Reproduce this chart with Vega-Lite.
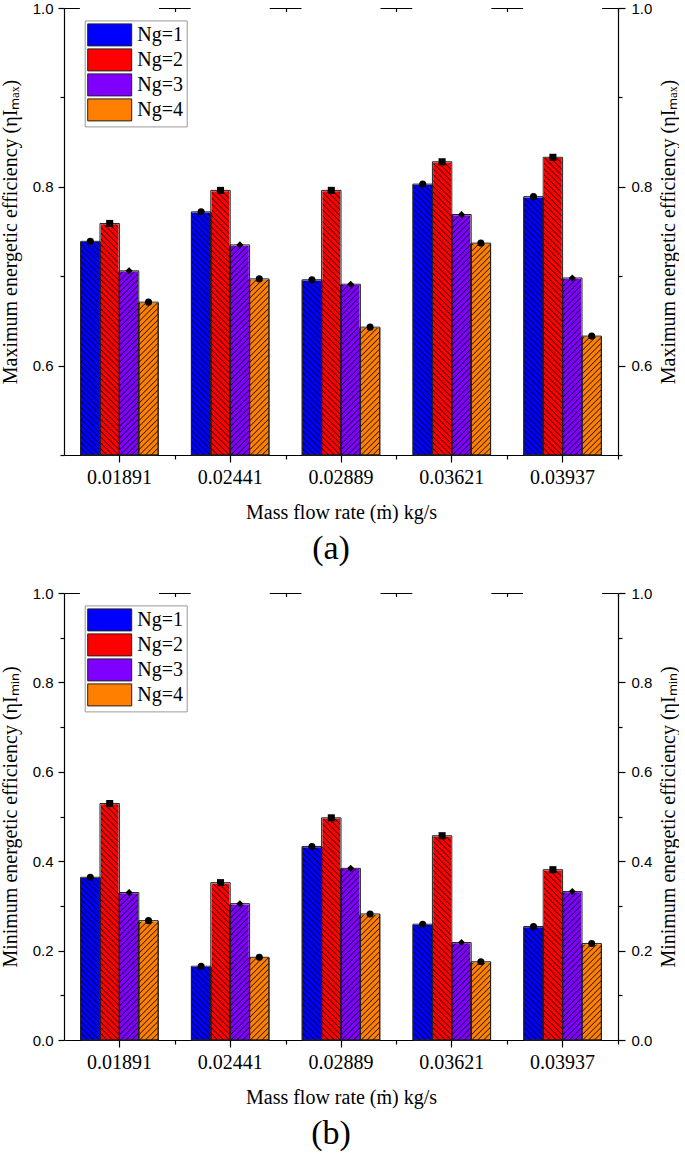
{
  "$schema": "https://vega.github.io/schema/vega-lite/v6.json",
  "background": "white",
  "padding": {"left": 0, "top": 1, "right": 0, "bottom": 0},
  "spacing": 20,
  "datasets": {
    "max": [
      {"m": "0.01891", "Ng": "Ng=1", "v": 0.739},
      {"m": "0.01891", "Ng": "Ng=2", "v": 0.759},
      {"m": "0.01891", "Ng": "Ng=3", "v": 0.706},
      {"m": "0.01891", "Ng": "Ng=4", "v": 0.671},
      {"m": "0.02441", "Ng": "Ng=1", "v": 0.772},
      {"m": "0.02441", "Ng": "Ng=2", "v": 0.796},
      {"m": "0.02441", "Ng": "Ng=3", "v": 0.735},
      {"m": "0.02441", "Ng": "Ng=4", "v": 0.697},
      {"m": "0.02889", "Ng": "Ng=1", "v": 0.696},
      {"m": "0.02889", "Ng": "Ng=2", "v": 0.796},
      {"m": "0.02889", "Ng": "Ng=3", "v": 0.691},
      {"m": "0.02889", "Ng": "Ng=4", "v": 0.643},
      {"m": "0.03621", "Ng": "Ng=1", "v": 0.803},
      {"m": "0.03621", "Ng": "Ng=2", "v": 0.828},
      {"m": "0.03621", "Ng": "Ng=3", "v": 0.769},
      {"m": "0.03621", "Ng": "Ng=4", "v": 0.737},
      {"m": "0.03937", "Ng": "Ng=1", "v": 0.789},
      {"m": "0.03937", "Ng": "Ng=2", "v": 0.833},
      {"m": "0.03937", "Ng": "Ng=3", "v": 0.698},
      {"m": "0.03937", "Ng": "Ng=4", "v": 0.633}
    ],
    "min": [
      {"m": "0.01891", "Ng": "Ng=1", "v": 0.364},
      {"m": "0.01891", "Ng": "Ng=2", "v": 0.529},
      {"m": "0.01891", "Ng": "Ng=3", "v": 0.330},
      {"m": "0.01891", "Ng": "Ng=4", "v": 0.267},
      {"m": "0.02441", "Ng": "Ng=1", "v": 0.165},
      {"m": "0.02441", "Ng": "Ng=2", "v": 0.352},
      {"m": "0.02441", "Ng": "Ng=3", "v": 0.305},
      {"m": "0.02441", "Ng": "Ng=4", "v": 0.185},
      {"m": "0.02889", "Ng": "Ng=1", "v": 0.433},
      {"m": "0.02889", "Ng": "Ng=2", "v": 0.497},
      {"m": "0.02889", "Ng": "Ng=3", "v": 0.384},
      {"m": "0.02889", "Ng": "Ng=4", "v": 0.282},
      {"m": "0.03621", "Ng": "Ng=1", "v": 0.259},
      {"m": "0.03621", "Ng": "Ng=2", "v": 0.457},
      {"m": "0.03621", "Ng": "Ng=3", "v": 0.218},
      {"m": "0.03621", "Ng": "Ng=4", "v": 0.175},
      {"m": "0.03937", "Ng": "Ng=1", "v": 0.254},
      {"m": "0.03937", "Ng": "Ng=2", "v": 0.381},
      {"m": "0.03937", "Ng": "Ng=3", "v": 0.332},
      {"m": "0.03937", "Ng": "Ng=4", "v": 0.216}
    ]
  },
  "resolve": {"scale": {"color": "independent", "shape": "independent"}},
  "vconcat": [
    {
      "data": {"name": "max"},
      "width": 554,
      "height": 447,
      "title": {"text": "(a)", "orient": "bottom", "font": "Liberation Serif", "fontSize": 34, "fontWeight": "normal", "color": "#000", "offset": 10, "dx": -10},
      "resolve": {"axis": {"x": "independent", "y": "independent"}},
      "layer": [
        {
          "mark": {"type": "bar", "stroke": "#222", "strokeWidth": 1},
          "encoding": {
            "x": {"field": "m", "type": "nominal", "sort": null, "scale": {"paddingInner": 0.3, "paddingOuter": 0.15},
              "axis": {"orient": "bottom", "title": "Mass flow rate (ṁ) kg/s", "labelAngle": 0, "labelFont": "Liberation Serif", "labelFontSize": 20, "tickSize": 7, "labelPadding": 5, "titlePadding": 15}},
            "xOffset": {"field": "Ng", "type": "nominal"},
            "y": {"field": "v", "type": "quantitative", "scale": {"domain": [0.5, 1], "nice": false, "zero": false},
              "axis": {"orient": "left", "values": [0.6, 0.8, 1.0], "format": ".1f", "tickSize": 6, "labelPadding": 5, "title": "Maximum energetic efficiency (ηIₘₐₓ)", "titlePadding": 12}},
            "y2": {"datum": 0.5},
            "color": {"field": "Ng", "type": "nominal", "scale": {"range": ["#0000ff", "#ff0000", "#8000ff", "#ff8000"]},
              "legend": {"orient": "none", "legendX": 20.7, "legendY": 12.4, "title": null, "symbolType": "M-2,-1H2V1H-2Z", "symbolSize": 484, "symbolOffset": 10.5, "labelOffset": 16, "labelFont": "Liberation Serif", "labelFontSize": 20, "labelColor": "#000", "rowPadding": -2, "padding": 3, "strokeColor": "#999", "fillColor": "#fff", "symbolStrokeColor": "#222", "symbolStrokeWidth": 1, "symbolOpacity": 1}}
          }
        },
        {
          "transform": [{"filter": {"field": "Ng", "oneOf": ["Ng=1", "Ng=2"]}}],
          "mark": {"type": "bar", "strokeWidth": 0, "fillOpacity": 0.8, "fill": {"gradient": "linear", "x1": 1, "y1": 0, "x2": 0.9548, "y2": 1.0414, "stops": [
            {"offset": 0.0075, "color": "#0000"}, {"offset": 0.01, "color": "#000"}, {"offset": 0.0125, "color": "#0000"}, {"offset": 0.02, "color": "#0000"}, {"offset": 0.0225, "color": "#000"}, {"offset": 0.025, "color": "#0000"}, {"offset": 0.0325, "color": "#0000"}, {"offset": 0.035, "color": "#000"}, {"offset": 0.0375, "color": "#0000"}, {"offset": 0.045, "color": "#0000"}, {"offset": 0.0475, "color": "#000"}, {"offset": 0.05, "color": "#0000"}, {"offset": 0.0575, "color": "#0000"}, {"offset": 0.06, "color": "#000"}, {"offset": 0.0625, "color": "#0000"}, {"offset": 0.07, "color": "#0000"}, {"offset": 0.0725, "color": "#000"}, {"offset": 0.075, "color": "#0000"}, {"offset": 0.0825, "color": "#0000"}, {"offset": 0.085, "color": "#000"}, {"offset": 0.0875, "color": "#0000"}, {"offset": 0.095, "color": "#0000"}, {"offset": 0.0975, "color": "#000"}, {"offset": 0.1, "color": "#0000"},
            {"offset": 0.1075, "color": "#0000"}, {"offset": 0.11, "color": "#000"}, {"offset": 0.1125, "color": "#0000"}, {"offset": 0.12, "color": "#0000"}, {"offset": 0.1225, "color": "#000"}, {"offset": 0.125, "color": "#0000"}, {"offset": 0.1325, "color": "#0000"}, {"offset": 0.135, "color": "#000"}, {"offset": 0.1375, "color": "#0000"}, {"offset": 0.145, "color": "#0000"}, {"offset": 0.1475, "color": "#000"}, {"offset": 0.15, "color": "#0000"}, {"offset": 0.1575, "color": "#0000"}, {"offset": 0.16, "color": "#000"}, {"offset": 0.1625, "color": "#0000"}, {"offset": 0.17, "color": "#0000"}, {"offset": 0.1725, "color": "#000"}, {"offset": 0.175, "color": "#0000"}, {"offset": 0.1825, "color": "#0000"}, {"offset": 0.185, "color": "#000"}, {"offset": 0.1875, "color": "#0000"}, {"offset": 0.195, "color": "#0000"}, {"offset": 0.1975, "color": "#000"}, {"offset": 0.2, "color": "#0000"},
            {"offset": 0.2075, "color": "#0000"}, {"offset": 0.21, "color": "#000"}, {"offset": 0.2125, "color": "#0000"}, {"offset": 0.22, "color": "#0000"}, {"offset": 0.2225, "color": "#000"}, {"offset": 0.225, "color": "#0000"}, {"offset": 0.2325, "color": "#0000"}, {"offset": 0.235, "color": "#000"}, {"offset": 0.2375, "color": "#0000"}, {"offset": 0.245, "color": "#0000"}, {"offset": 0.2475, "color": "#000"}, {"offset": 0.25, "color": "#0000"}, {"offset": 0.2575, "color": "#0000"}, {"offset": 0.26, "color": "#000"}, {"offset": 0.2625, "color": "#0000"}, {"offset": 0.27, "color": "#0000"}, {"offset": 0.2725, "color": "#000"}, {"offset": 0.275, "color": "#0000"}, {"offset": 0.2825, "color": "#0000"}, {"offset": 0.285, "color": "#000"}, {"offset": 0.2875, "color": "#0000"}, {"offset": 0.295, "color": "#0000"}, {"offset": 0.2975, "color": "#000"}, {"offset": 0.3, "color": "#0000"},
            {"offset": 0.3075, "color": "#0000"}, {"offset": 0.31, "color": "#000"}, {"offset": 0.3125, "color": "#0000"}, {"offset": 0.32, "color": "#0000"}, {"offset": 0.3225, "color": "#000"}, {"offset": 0.325, "color": "#0000"}, {"offset": 0.3325, "color": "#0000"}, {"offset": 0.335, "color": "#000"}, {"offset": 0.3375, "color": "#0000"}, {"offset": 0.345, "color": "#0000"}, {"offset": 0.3475, "color": "#000"}, {"offset": 0.35, "color": "#0000"}, {"offset": 0.3575, "color": "#0000"}, {"offset": 0.36, "color": "#000"}, {"offset": 0.3625, "color": "#0000"}, {"offset": 0.37, "color": "#0000"}, {"offset": 0.3725, "color": "#000"}, {"offset": 0.375, "color": "#0000"}, {"offset": 0.3825, "color": "#0000"}, {"offset": 0.385, "color": "#000"}, {"offset": 0.3875, "color": "#0000"}, {"offset": 0.395, "color": "#0000"}, {"offset": 0.3975, "color": "#000"}, {"offset": 0.4, "color": "#0000"},
            {"offset": 0.4075, "color": "#0000"}, {"offset": 0.41, "color": "#000"}, {"offset": 0.4125, "color": "#0000"}, {"offset": 0.42, "color": "#0000"}, {"offset": 0.4225, "color": "#000"}, {"offset": 0.425, "color": "#0000"}, {"offset": 0.4325, "color": "#0000"}, {"offset": 0.435, "color": "#000"}, {"offset": 0.4375, "color": "#0000"}, {"offset": 0.445, "color": "#0000"}, {"offset": 0.4475, "color": "#000"}, {"offset": 0.45, "color": "#0000"}, {"offset": 0.4575, "color": "#0000"}, {"offset": 0.46, "color": "#000"}, {"offset": 0.4625, "color": "#0000"}, {"offset": 0.47, "color": "#0000"}, {"offset": 0.4725, "color": "#000"}, {"offset": 0.475, "color": "#0000"}, {"offset": 0.4825, "color": "#0000"}, {"offset": 0.485, "color": "#000"}, {"offset": 0.4875, "color": "#0000"}, {"offset": 0.495, "color": "#0000"}, {"offset": 0.4975, "color": "#000"}, {"offset": 0.5, "color": "#0000"},
            {"offset": 0.5075, "color": "#0000"}, {"offset": 0.51, "color": "#000"}, {"offset": 0.5125, "color": "#0000"}, {"offset": 0.52, "color": "#0000"}, {"offset": 0.5225, "color": "#000"}, {"offset": 0.525, "color": "#0000"}, {"offset": 0.5325, "color": "#0000"}, {"offset": 0.535, "color": "#000"}, {"offset": 0.5375, "color": "#0000"}, {"offset": 0.545, "color": "#0000"}, {"offset": 0.5475, "color": "#000"}, {"offset": 0.55, "color": "#0000"}, {"offset": 0.5575, "color": "#0000"}, {"offset": 0.56, "color": "#000"}, {"offset": 0.5625, "color": "#0000"}, {"offset": 0.57, "color": "#0000"}, {"offset": 0.5725, "color": "#000"}, {"offset": 0.575, "color": "#0000"}, {"offset": 0.5825, "color": "#0000"}, {"offset": 0.585, "color": "#000"}, {"offset": 0.5875, "color": "#0000"}, {"offset": 0.595, "color": "#0000"}, {"offset": 0.5975, "color": "#000"}, {"offset": 0.6, "color": "#0000"},
            {"offset": 0.6075, "color": "#0000"}, {"offset": 0.61, "color": "#000"}, {"offset": 0.6125, "color": "#0000"}, {"offset": 0.62, "color": "#0000"}, {"offset": 0.6225, "color": "#000"}, {"offset": 0.625, "color": "#0000"}, {"offset": 0.6325, "color": "#0000"}, {"offset": 0.635, "color": "#000"}, {"offset": 0.6375, "color": "#0000"}, {"offset": 0.645, "color": "#0000"}, {"offset": 0.6475, "color": "#000"}, {"offset": 0.65, "color": "#0000"}, {"offset": 0.6575, "color": "#0000"}, {"offset": 0.66, "color": "#000"}, {"offset": 0.6625, "color": "#0000"}, {"offset": 0.67, "color": "#0000"}, {"offset": 0.6725, "color": "#000"}, {"offset": 0.675, "color": "#0000"}, {"offset": 0.6825, "color": "#0000"}, {"offset": 0.685, "color": "#000"}, {"offset": 0.6875, "color": "#0000"}, {"offset": 0.695, "color": "#0000"}, {"offset": 0.6975, "color": "#000"}, {"offset": 0.7, "color": "#0000"},
            {"offset": 0.7075, "color": "#0000"}, {"offset": 0.71, "color": "#000"}, {"offset": 0.7125, "color": "#0000"}, {"offset": 0.72, "color": "#0000"}, {"offset": 0.7225, "color": "#000"}, {"offset": 0.725, "color": "#0000"}, {"offset": 0.7325, "color": "#0000"}, {"offset": 0.735, "color": "#000"}, {"offset": 0.7375, "color": "#0000"}, {"offset": 0.745, "color": "#0000"}, {"offset": 0.7475, "color": "#000"}, {"offset": 0.75, "color": "#0000"}, {"offset": 0.7575, "color": "#0000"}, {"offset": 0.76, "color": "#000"}, {"offset": 0.7625, "color": "#0000"}, {"offset": 0.77, "color": "#0000"}, {"offset": 0.7725, "color": "#000"}, {"offset": 0.775, "color": "#0000"}, {"offset": 0.7825, "color": "#0000"}, {"offset": 0.785, "color": "#000"}, {"offset": 0.7875, "color": "#0000"}, {"offset": 0.795, "color": "#0000"}, {"offset": 0.7975, "color": "#000"}, {"offset": 0.8, "color": "#0000"},
            {"offset": 0.8075, "color": "#0000"}, {"offset": 0.81, "color": "#000"}, {"offset": 0.8125, "color": "#0000"}, {"offset": 0.82, "color": "#0000"}, {"offset": 0.8225, "color": "#000"}, {"offset": 0.825, "color": "#0000"}, {"offset": 0.8325, "color": "#0000"}, {"offset": 0.835, "color": "#000"}, {"offset": 0.8375, "color": "#0000"}, {"offset": 0.845, "color": "#0000"}, {"offset": 0.8475, "color": "#000"}, {"offset": 0.85, "color": "#0000"}, {"offset": 0.8575, "color": "#0000"}, {"offset": 0.86, "color": "#000"}, {"offset": 0.8625, "color": "#0000"}, {"offset": 0.87, "color": "#0000"}, {"offset": 0.8725, "color": "#000"}, {"offset": 0.875, "color": "#0000"}, {"offset": 0.8825, "color": "#0000"}, {"offset": 0.885, "color": "#000"}, {"offset": 0.8875, "color": "#0000"}, {"offset": 0.895, "color": "#0000"}, {"offset": 0.8975, "color": "#000"}, {"offset": 0.9, "color": "#0000"},
            {"offset": 0.9075, "color": "#0000"}, {"offset": 0.91, "color": "#000"}, {"offset": 0.9125, "color": "#0000"}, {"offset": 0.92, "color": "#0000"}, {"offset": 0.9225, "color": "#000"}, {"offset": 0.925, "color": "#0000"}, {"offset": 0.9325, "color": "#0000"}, {"offset": 0.935, "color": "#000"}, {"offset": 0.9375, "color": "#0000"}, {"offset": 0.945, "color": "#0000"}, {"offset": 0.9475, "color": "#000"}, {"offset": 0.95, "color": "#0000"}, {"offset": 0.9575, "color": "#0000"}, {"offset": 0.96, "color": "#000"}, {"offset": 0.9625, "color": "#0000"}, {"offset": 0.97, "color": "#0000"}, {"offset": 0.9725, "color": "#000"}, {"offset": 0.975, "color": "#0000"}, {"offset": 0.9825, "color": "#0000"}, {"offset": 0.985, "color": "#000"}, {"offset": 0.9875, "color": "#0000"}, {"offset": 0.995, "color": "#0000"}, {"offset": 0.9975, "color": "#000"}, {"offset": 1, "color": "#0000"}
          ]}},
          "encoding": {
            "x": {"field": "m", "type": "nominal", "sort": null,
              "axis": {"orient": "bottom", "bandPosition": 1, "tickOffset": 16.6, "tickSize": 4, "labels": false, "domain": false, "title": null}},
            "xOffset": {"field": "Ng", "type": "nominal"},
            "y": {"datum": 1, "type": "quantitative", "axis": {"orient": "left", "values": [0.5, 0.7, 0.9], "tickSize": 4, "labels": false, "domain": false, "title": null}},
            "y2": {"datum": 0.5}
          }
        },
        {
          "transform": [{"filter": {"field": "Ng", "oneOf": ["Ng=3", "Ng=4"]}}],
          "mark": {"type": "bar", "strokeWidth": 0, "fillOpacity": 0.8, "fill": {"gradient": "linear", "x1": 0, "y1": 0, "x2": 0.0452, "y2": 1.0414, "stops": [
            {"offset": 0.0075, "color": "#0000"}, {"offset": 0.01, "color": "#000"}, {"offset": 0.0125, "color": "#0000"}, {"offset": 0.02, "color": "#0000"}, {"offset": 0.0225, "color": "#000"}, {"offset": 0.025, "color": "#0000"}, {"offset": 0.0325, "color": "#0000"}, {"offset": 0.035, "color": "#000"}, {"offset": 0.0375, "color": "#0000"}, {"offset": 0.045, "color": "#0000"}, {"offset": 0.0475, "color": "#000"}, {"offset": 0.05, "color": "#0000"}, {"offset": 0.0575, "color": "#0000"}, {"offset": 0.06, "color": "#000"}, {"offset": 0.0625, "color": "#0000"}, {"offset": 0.07, "color": "#0000"}, {"offset": 0.0725, "color": "#000"}, {"offset": 0.075, "color": "#0000"}, {"offset": 0.0825, "color": "#0000"}, {"offset": 0.085, "color": "#000"}, {"offset": 0.0875, "color": "#0000"}, {"offset": 0.095, "color": "#0000"}, {"offset": 0.0975, "color": "#000"}, {"offset": 0.1, "color": "#0000"},
            {"offset": 0.1075, "color": "#0000"}, {"offset": 0.11, "color": "#000"}, {"offset": 0.1125, "color": "#0000"}, {"offset": 0.12, "color": "#0000"}, {"offset": 0.1225, "color": "#000"}, {"offset": 0.125, "color": "#0000"}, {"offset": 0.1325, "color": "#0000"}, {"offset": 0.135, "color": "#000"}, {"offset": 0.1375, "color": "#0000"}, {"offset": 0.145, "color": "#0000"}, {"offset": 0.1475, "color": "#000"}, {"offset": 0.15, "color": "#0000"}, {"offset": 0.1575, "color": "#0000"}, {"offset": 0.16, "color": "#000"}, {"offset": 0.1625, "color": "#0000"}, {"offset": 0.17, "color": "#0000"}, {"offset": 0.1725, "color": "#000"}, {"offset": 0.175, "color": "#0000"}, {"offset": 0.1825, "color": "#0000"}, {"offset": 0.185, "color": "#000"}, {"offset": 0.1875, "color": "#0000"}, {"offset": 0.195, "color": "#0000"}, {"offset": 0.1975, "color": "#000"}, {"offset": 0.2, "color": "#0000"},
            {"offset": 0.2075, "color": "#0000"}, {"offset": 0.21, "color": "#000"}, {"offset": 0.2125, "color": "#0000"}, {"offset": 0.22, "color": "#0000"}, {"offset": 0.2225, "color": "#000"}, {"offset": 0.225, "color": "#0000"}, {"offset": 0.2325, "color": "#0000"}, {"offset": 0.235, "color": "#000"}, {"offset": 0.2375, "color": "#0000"}, {"offset": 0.245, "color": "#0000"}, {"offset": 0.2475, "color": "#000"}, {"offset": 0.25, "color": "#0000"}, {"offset": 0.2575, "color": "#0000"}, {"offset": 0.26, "color": "#000"}, {"offset": 0.2625, "color": "#0000"}, {"offset": 0.27, "color": "#0000"}, {"offset": 0.2725, "color": "#000"}, {"offset": 0.275, "color": "#0000"}, {"offset": 0.2825, "color": "#0000"}, {"offset": 0.285, "color": "#000"}, {"offset": 0.2875, "color": "#0000"}, {"offset": 0.295, "color": "#0000"}, {"offset": 0.2975, "color": "#000"}, {"offset": 0.3, "color": "#0000"},
            {"offset": 0.3075, "color": "#0000"}, {"offset": 0.31, "color": "#000"}, {"offset": 0.3125, "color": "#0000"}, {"offset": 0.32, "color": "#0000"}, {"offset": 0.3225, "color": "#000"}, {"offset": 0.325, "color": "#0000"}, {"offset": 0.3325, "color": "#0000"}, {"offset": 0.335, "color": "#000"}, {"offset": 0.3375, "color": "#0000"}, {"offset": 0.345, "color": "#0000"}, {"offset": 0.3475, "color": "#000"}, {"offset": 0.35, "color": "#0000"}, {"offset": 0.3575, "color": "#0000"}, {"offset": 0.36, "color": "#000"}, {"offset": 0.3625, "color": "#0000"}, {"offset": 0.37, "color": "#0000"}, {"offset": 0.3725, "color": "#000"}, {"offset": 0.375, "color": "#0000"}, {"offset": 0.3825, "color": "#0000"}, {"offset": 0.385, "color": "#000"}, {"offset": 0.3875, "color": "#0000"}, {"offset": 0.395, "color": "#0000"}, {"offset": 0.3975, "color": "#000"}, {"offset": 0.4, "color": "#0000"},
            {"offset": 0.4075, "color": "#0000"}, {"offset": 0.41, "color": "#000"}, {"offset": 0.4125, "color": "#0000"}, {"offset": 0.42, "color": "#0000"}, {"offset": 0.4225, "color": "#000"}, {"offset": 0.425, "color": "#0000"}, {"offset": 0.4325, "color": "#0000"}, {"offset": 0.435, "color": "#000"}, {"offset": 0.4375, "color": "#0000"}, {"offset": 0.445, "color": "#0000"}, {"offset": 0.4475, "color": "#000"}, {"offset": 0.45, "color": "#0000"}, {"offset": 0.4575, "color": "#0000"}, {"offset": 0.46, "color": "#000"}, {"offset": 0.4625, "color": "#0000"}, {"offset": 0.47, "color": "#0000"}, {"offset": 0.4725, "color": "#000"}, {"offset": 0.475, "color": "#0000"}, {"offset": 0.4825, "color": "#0000"}, {"offset": 0.485, "color": "#000"}, {"offset": 0.4875, "color": "#0000"}, {"offset": 0.495, "color": "#0000"}, {"offset": 0.4975, "color": "#000"}, {"offset": 0.5, "color": "#0000"},
            {"offset": 0.5075, "color": "#0000"}, {"offset": 0.51, "color": "#000"}, {"offset": 0.5125, "color": "#0000"}, {"offset": 0.52, "color": "#0000"}, {"offset": 0.5225, "color": "#000"}, {"offset": 0.525, "color": "#0000"}, {"offset": 0.5325, "color": "#0000"}, {"offset": 0.535, "color": "#000"}, {"offset": 0.5375, "color": "#0000"}, {"offset": 0.545, "color": "#0000"}, {"offset": 0.5475, "color": "#000"}, {"offset": 0.55, "color": "#0000"}, {"offset": 0.5575, "color": "#0000"}, {"offset": 0.56, "color": "#000"}, {"offset": 0.5625, "color": "#0000"}, {"offset": 0.57, "color": "#0000"}, {"offset": 0.5725, "color": "#000"}, {"offset": 0.575, "color": "#0000"}, {"offset": 0.5825, "color": "#0000"}, {"offset": 0.585, "color": "#000"}, {"offset": 0.5875, "color": "#0000"}, {"offset": 0.595, "color": "#0000"}, {"offset": 0.5975, "color": "#000"}, {"offset": 0.6, "color": "#0000"},
            {"offset": 0.6075, "color": "#0000"}, {"offset": 0.61, "color": "#000"}, {"offset": 0.6125, "color": "#0000"}, {"offset": 0.62, "color": "#0000"}, {"offset": 0.6225, "color": "#000"}, {"offset": 0.625, "color": "#0000"}, {"offset": 0.6325, "color": "#0000"}, {"offset": 0.635, "color": "#000"}, {"offset": 0.6375, "color": "#0000"}, {"offset": 0.645, "color": "#0000"}, {"offset": 0.6475, "color": "#000"}, {"offset": 0.65, "color": "#0000"}, {"offset": 0.6575, "color": "#0000"}, {"offset": 0.66, "color": "#000"}, {"offset": 0.6625, "color": "#0000"}, {"offset": 0.67, "color": "#0000"}, {"offset": 0.6725, "color": "#000"}, {"offset": 0.675, "color": "#0000"}, {"offset": 0.6825, "color": "#0000"}, {"offset": 0.685, "color": "#000"}, {"offset": 0.6875, "color": "#0000"}, {"offset": 0.695, "color": "#0000"}, {"offset": 0.6975, "color": "#000"}, {"offset": 0.7, "color": "#0000"},
            {"offset": 0.7075, "color": "#0000"}, {"offset": 0.71, "color": "#000"}, {"offset": 0.7125, "color": "#0000"}, {"offset": 0.72, "color": "#0000"}, {"offset": 0.7225, "color": "#000"}, {"offset": 0.725, "color": "#0000"}, {"offset": 0.7325, "color": "#0000"}, {"offset": 0.735, "color": "#000"}, {"offset": 0.7375, "color": "#0000"}, {"offset": 0.745, "color": "#0000"}, {"offset": 0.7475, "color": "#000"}, {"offset": 0.75, "color": "#0000"}, {"offset": 0.7575, "color": "#0000"}, {"offset": 0.76, "color": "#000"}, {"offset": 0.7625, "color": "#0000"}, {"offset": 0.77, "color": "#0000"}, {"offset": 0.7725, "color": "#000"}, {"offset": 0.775, "color": "#0000"}, {"offset": 0.7825, "color": "#0000"}, {"offset": 0.785, "color": "#000"}, {"offset": 0.7875, "color": "#0000"}, {"offset": 0.795, "color": "#0000"}, {"offset": 0.7975, "color": "#000"}, {"offset": 0.8, "color": "#0000"},
            {"offset": 0.8075, "color": "#0000"}, {"offset": 0.81, "color": "#000"}, {"offset": 0.8125, "color": "#0000"}, {"offset": 0.82, "color": "#0000"}, {"offset": 0.8225, "color": "#000"}, {"offset": 0.825, "color": "#0000"}, {"offset": 0.8325, "color": "#0000"}, {"offset": 0.835, "color": "#000"}, {"offset": 0.8375, "color": "#0000"}, {"offset": 0.845, "color": "#0000"}, {"offset": 0.8475, "color": "#000"}, {"offset": 0.85, "color": "#0000"}, {"offset": 0.8575, "color": "#0000"}, {"offset": 0.86, "color": "#000"}, {"offset": 0.8625, "color": "#0000"}, {"offset": 0.87, "color": "#0000"}, {"offset": 0.8725, "color": "#000"}, {"offset": 0.875, "color": "#0000"}, {"offset": 0.8825, "color": "#0000"}, {"offset": 0.885, "color": "#000"}, {"offset": 0.8875, "color": "#0000"}, {"offset": 0.895, "color": "#0000"}, {"offset": 0.8975, "color": "#000"}, {"offset": 0.9, "color": "#0000"},
            {"offset": 0.9075, "color": "#0000"}, {"offset": 0.91, "color": "#000"}, {"offset": 0.9125, "color": "#0000"}, {"offset": 0.92, "color": "#0000"}, {"offset": 0.9225, "color": "#000"}, {"offset": 0.925, "color": "#0000"}, {"offset": 0.9325, "color": "#0000"}, {"offset": 0.935, "color": "#000"}, {"offset": 0.9375, "color": "#0000"}, {"offset": 0.945, "color": "#0000"}, {"offset": 0.9475, "color": "#000"}, {"offset": 0.95, "color": "#0000"}, {"offset": 0.9575, "color": "#0000"}, {"offset": 0.96, "color": "#000"}, {"offset": 0.9625, "color": "#0000"}, {"offset": 0.97, "color": "#0000"}, {"offset": 0.9725, "color": "#000"}, {"offset": 0.975, "color": "#0000"}, {"offset": 0.9825, "color": "#0000"}, {"offset": 0.985, "color": "#000"}, {"offset": 0.9875, "color": "#0000"}, {"offset": 0.995, "color": "#0000"}, {"offset": 0.9975, "color": "#000"}, {"offset": 1, "color": "#0000"}
          ]}},
          "encoding": {
            "x": {"field": "m", "type": "nominal", "sort": null,
              "axis": {"orient": "top", "ticks": false, "labels": false, "title": null}},
            "xOffset": {"field": "Ng", "type": "nominal"},
            "y": {"datum": 1, "type": "quantitative", "axis": {"orient": "right", "values": [0.6, 0.8, 1.0], "format": ".1f", "tickSize": 7, "labelPadding": 6, "title": "Maximum energetic efficiency (ηIₘₐₓ)", "titleAngle": 270, "titleBaseline": "top", "titlePadding": 7}},
            "y2": {"datum": 0.5}
          }
        },
        {
          "mark": {"type": "bar", "fill": "#fff", "stroke": "#fff", "strokeWidth": 1.5},
          "encoding": {
            "x": {"field": "m", "type": "nominal", "sort": null,
              "axis": {"orient": "top", "offset": -6, "tickSize": 6, "labels": false, "domain": false, "title": null}},
            "xOffset": {"field": "Ng", "type": "nominal"},
            "y": {"field": "v", "type": "quantitative", "axis": {"orient": "right", "values": [0.5, 0.7, 0.9], "tickSize": 4, "labels": false, "domain": false, "title": null}},
            "y2": {"datum": 1}
          }
        },
        {
          "mark": {"type": "bar", "fill": "transparent", "stroke": "#222", "strokeWidth": 1},
          "encoding": {
            "x": {"field": "m", "type": "nominal", "sort": null,
              "axis": {"orient": "top", "offset": -3.5, "tickSize": 3.5, "bandPosition": 1, "tickOffset": 16.6, "labels": false, "domain": false, "title": null}},
            "xOffset": {"field": "Ng", "type": "nominal"},
            "y": {"field": "v", "type": "quantitative", "axis": null},
            "y2": {"datum": 0.5}
          }
        },
        {
          "mark": {"type": "point", "filled": true, "fill": "#000", "size": 50, "opacity": 1},
          "encoding": {
            "x": {"field": "m", "type": "nominal", "sort": null, "axis": null},
            "xOffset": {"field": "Ng", "type": "nominal"},
            "y": {"field": "v", "type": "quantitative", "axis": null},
            "shape": {"field": "Ng", "type": "nominal", "scale": {"range": ["circle", "square", "diamond", "circle"]}, "legend": null}
          }
        }
      ]
    },
    {
      "data": {"name": "min"},
      "width": 554,
      "height": 447,
      "title": {"text": "(b)", "orient": "bottom", "font": "Liberation Serif", "fontSize": 34, "fontWeight": "normal", "color": "#000", "offset": 10, "dx": -10},
      "resolve": {"axis": {"x": "independent", "y": "independent"}},
      "layer": [
        {
          "mark": {"type": "bar", "stroke": "#222", "strokeWidth": 1},
          "encoding": {
            "x": {"field": "m", "type": "nominal", "sort": null, "scale": {"paddingInner": 0.3, "paddingOuter": 0.15},
              "axis": {"orient": "bottom", "title": "Mass flow rate (ṁ) kg/s", "labelAngle": 0, "labelFont": "Liberation Serif", "labelFontSize": 20, "tickSize": 7, "labelPadding": 5, "titlePadding": 15}},
            "xOffset": {"field": "Ng", "type": "nominal"},
            "y": {"field": "v", "type": "quantitative", "scale": {"domain": [0, 1], "nice": false},
              "axis": {"orient": "left", "values": [0, 0.2, 0.4, 0.6, 0.8, 1.0], "format": ".1f", "tickSize": 6, "labelPadding": 5, "title": "Minimum energetic efficiency (ηIₘᵢₙ)", "titlePadding": 12}},
            "y2": {"datum": 0},
            "color": {"field": "Ng", "type": "nominal", "scale": {"range": ["#0000ff", "#ff0000", "#8000ff", "#ff8000"]},
              "legend": {"orient": "none", "legendX": 20.7, "legendY": 12.4, "title": null, "symbolType": "M-2,-1H2V1H-2Z", "symbolSize": 484, "symbolOffset": 10.5, "labelOffset": 16, "labelFont": "Liberation Serif", "labelFontSize": 20, "labelColor": "#000", "rowPadding": -2, "padding": 3, "strokeColor": "#999", "fillColor": "#fff", "symbolStrokeColor": "#222", "symbolStrokeWidth": 1, "symbolOpacity": 1}}
          }
        },
        {
          "transform": [{"filter": {"field": "Ng", "oneOf": ["Ng=1", "Ng=2"]}}],
          "mark": {"type": "bar", "strokeWidth": 0, "fillOpacity": 0.8, "fill": {"gradient": "linear", "x1": 1, "y1": 0, "x2": 0.9548, "y2": 1.0414, "stops": [
            {"offset": 0.0075, "color": "#0000"}, {"offset": 0.01, "color": "#000"}, {"offset": 0.0125, "color": "#0000"}, {"offset": 0.02, "color": "#0000"}, {"offset": 0.0225, "color": "#000"}, {"offset": 0.025, "color": "#0000"}, {"offset": 0.0325, "color": "#0000"}, {"offset": 0.035, "color": "#000"}, {"offset": 0.0375, "color": "#0000"}, {"offset": 0.045, "color": "#0000"}, {"offset": 0.0475, "color": "#000"}, {"offset": 0.05, "color": "#0000"}, {"offset": 0.0575, "color": "#0000"}, {"offset": 0.06, "color": "#000"}, {"offset": 0.0625, "color": "#0000"}, {"offset": 0.07, "color": "#0000"}, {"offset": 0.0725, "color": "#000"}, {"offset": 0.075, "color": "#0000"}, {"offset": 0.0825, "color": "#0000"}, {"offset": 0.085, "color": "#000"}, {"offset": 0.0875, "color": "#0000"}, {"offset": 0.095, "color": "#0000"}, {"offset": 0.0975, "color": "#000"}, {"offset": 0.1, "color": "#0000"},
            {"offset": 0.1075, "color": "#0000"}, {"offset": 0.11, "color": "#000"}, {"offset": 0.1125, "color": "#0000"}, {"offset": 0.12, "color": "#0000"}, {"offset": 0.1225, "color": "#000"}, {"offset": 0.125, "color": "#0000"}, {"offset": 0.1325, "color": "#0000"}, {"offset": 0.135, "color": "#000"}, {"offset": 0.1375, "color": "#0000"}, {"offset": 0.145, "color": "#0000"}, {"offset": 0.1475, "color": "#000"}, {"offset": 0.15, "color": "#0000"}, {"offset": 0.1575, "color": "#0000"}, {"offset": 0.16, "color": "#000"}, {"offset": 0.1625, "color": "#0000"}, {"offset": 0.17, "color": "#0000"}, {"offset": 0.1725, "color": "#000"}, {"offset": 0.175, "color": "#0000"}, {"offset": 0.1825, "color": "#0000"}, {"offset": 0.185, "color": "#000"}, {"offset": 0.1875, "color": "#0000"}, {"offset": 0.195, "color": "#0000"}, {"offset": 0.1975, "color": "#000"}, {"offset": 0.2, "color": "#0000"},
            {"offset": 0.2075, "color": "#0000"}, {"offset": 0.21, "color": "#000"}, {"offset": 0.2125, "color": "#0000"}, {"offset": 0.22, "color": "#0000"}, {"offset": 0.2225, "color": "#000"}, {"offset": 0.225, "color": "#0000"}, {"offset": 0.2325, "color": "#0000"}, {"offset": 0.235, "color": "#000"}, {"offset": 0.2375, "color": "#0000"}, {"offset": 0.245, "color": "#0000"}, {"offset": 0.2475, "color": "#000"}, {"offset": 0.25, "color": "#0000"}, {"offset": 0.2575, "color": "#0000"}, {"offset": 0.26, "color": "#000"}, {"offset": 0.2625, "color": "#0000"}, {"offset": 0.27, "color": "#0000"}, {"offset": 0.2725, "color": "#000"}, {"offset": 0.275, "color": "#0000"}, {"offset": 0.2825, "color": "#0000"}, {"offset": 0.285, "color": "#000"}, {"offset": 0.2875, "color": "#0000"}, {"offset": 0.295, "color": "#0000"}, {"offset": 0.2975, "color": "#000"}, {"offset": 0.3, "color": "#0000"},
            {"offset": 0.3075, "color": "#0000"}, {"offset": 0.31, "color": "#000"}, {"offset": 0.3125, "color": "#0000"}, {"offset": 0.32, "color": "#0000"}, {"offset": 0.3225, "color": "#000"}, {"offset": 0.325, "color": "#0000"}, {"offset": 0.3325, "color": "#0000"}, {"offset": 0.335, "color": "#000"}, {"offset": 0.3375, "color": "#0000"}, {"offset": 0.345, "color": "#0000"}, {"offset": 0.3475, "color": "#000"}, {"offset": 0.35, "color": "#0000"}, {"offset": 0.3575, "color": "#0000"}, {"offset": 0.36, "color": "#000"}, {"offset": 0.3625, "color": "#0000"}, {"offset": 0.37, "color": "#0000"}, {"offset": 0.3725, "color": "#000"}, {"offset": 0.375, "color": "#0000"}, {"offset": 0.3825, "color": "#0000"}, {"offset": 0.385, "color": "#000"}, {"offset": 0.3875, "color": "#0000"}, {"offset": 0.395, "color": "#0000"}, {"offset": 0.3975, "color": "#000"}, {"offset": 0.4, "color": "#0000"},
            {"offset": 0.4075, "color": "#0000"}, {"offset": 0.41, "color": "#000"}, {"offset": 0.4125, "color": "#0000"}, {"offset": 0.42, "color": "#0000"}, {"offset": 0.4225, "color": "#000"}, {"offset": 0.425, "color": "#0000"}, {"offset": 0.4325, "color": "#0000"}, {"offset": 0.435, "color": "#000"}, {"offset": 0.4375, "color": "#0000"}, {"offset": 0.445, "color": "#0000"}, {"offset": 0.4475, "color": "#000"}, {"offset": 0.45, "color": "#0000"}, {"offset": 0.4575, "color": "#0000"}, {"offset": 0.46, "color": "#000"}, {"offset": 0.4625, "color": "#0000"}, {"offset": 0.47, "color": "#0000"}, {"offset": 0.4725, "color": "#000"}, {"offset": 0.475, "color": "#0000"}, {"offset": 0.4825, "color": "#0000"}, {"offset": 0.485, "color": "#000"}, {"offset": 0.4875, "color": "#0000"}, {"offset": 0.495, "color": "#0000"}, {"offset": 0.4975, "color": "#000"}, {"offset": 0.5, "color": "#0000"},
            {"offset": 0.5075, "color": "#0000"}, {"offset": 0.51, "color": "#000"}, {"offset": 0.5125, "color": "#0000"}, {"offset": 0.52, "color": "#0000"}, {"offset": 0.5225, "color": "#000"}, {"offset": 0.525, "color": "#0000"}, {"offset": 0.5325, "color": "#0000"}, {"offset": 0.535, "color": "#000"}, {"offset": 0.5375, "color": "#0000"}, {"offset": 0.545, "color": "#0000"}, {"offset": 0.5475, "color": "#000"}, {"offset": 0.55, "color": "#0000"}, {"offset": 0.5575, "color": "#0000"}, {"offset": 0.56, "color": "#000"}, {"offset": 0.5625, "color": "#0000"}, {"offset": 0.57, "color": "#0000"}, {"offset": 0.5725, "color": "#000"}, {"offset": 0.575, "color": "#0000"}, {"offset": 0.5825, "color": "#0000"}, {"offset": 0.585, "color": "#000"}, {"offset": 0.5875, "color": "#0000"}, {"offset": 0.595, "color": "#0000"}, {"offset": 0.5975, "color": "#000"}, {"offset": 0.6, "color": "#0000"},
            {"offset": 0.6075, "color": "#0000"}, {"offset": 0.61, "color": "#000"}, {"offset": 0.6125, "color": "#0000"}, {"offset": 0.62, "color": "#0000"}, {"offset": 0.6225, "color": "#000"}, {"offset": 0.625, "color": "#0000"}, {"offset": 0.6325, "color": "#0000"}, {"offset": 0.635, "color": "#000"}, {"offset": 0.6375, "color": "#0000"}, {"offset": 0.645, "color": "#0000"}, {"offset": 0.6475, "color": "#000"}, {"offset": 0.65, "color": "#0000"}, {"offset": 0.6575, "color": "#0000"}, {"offset": 0.66, "color": "#000"}, {"offset": 0.6625, "color": "#0000"}, {"offset": 0.67, "color": "#0000"}, {"offset": 0.6725, "color": "#000"}, {"offset": 0.675, "color": "#0000"}, {"offset": 0.6825, "color": "#0000"}, {"offset": 0.685, "color": "#000"}, {"offset": 0.6875, "color": "#0000"}, {"offset": 0.695, "color": "#0000"}, {"offset": 0.6975, "color": "#000"}, {"offset": 0.7, "color": "#0000"},
            {"offset": 0.7075, "color": "#0000"}, {"offset": 0.71, "color": "#000"}, {"offset": 0.7125, "color": "#0000"}, {"offset": 0.72, "color": "#0000"}, {"offset": 0.7225, "color": "#000"}, {"offset": 0.725, "color": "#0000"}, {"offset": 0.7325, "color": "#0000"}, {"offset": 0.735, "color": "#000"}, {"offset": 0.7375, "color": "#0000"}, {"offset": 0.745, "color": "#0000"}, {"offset": 0.7475, "color": "#000"}, {"offset": 0.75, "color": "#0000"}, {"offset": 0.7575, "color": "#0000"}, {"offset": 0.76, "color": "#000"}, {"offset": 0.7625, "color": "#0000"}, {"offset": 0.77, "color": "#0000"}, {"offset": 0.7725, "color": "#000"}, {"offset": 0.775, "color": "#0000"}, {"offset": 0.7825, "color": "#0000"}, {"offset": 0.785, "color": "#000"}, {"offset": 0.7875, "color": "#0000"}, {"offset": 0.795, "color": "#0000"}, {"offset": 0.7975, "color": "#000"}, {"offset": 0.8, "color": "#0000"},
            {"offset": 0.8075, "color": "#0000"}, {"offset": 0.81, "color": "#000"}, {"offset": 0.8125, "color": "#0000"}, {"offset": 0.82, "color": "#0000"}, {"offset": 0.8225, "color": "#000"}, {"offset": 0.825, "color": "#0000"}, {"offset": 0.8325, "color": "#0000"}, {"offset": 0.835, "color": "#000"}, {"offset": 0.8375, "color": "#0000"}, {"offset": 0.845, "color": "#0000"}, {"offset": 0.8475, "color": "#000"}, {"offset": 0.85, "color": "#0000"}, {"offset": 0.8575, "color": "#0000"}, {"offset": 0.86, "color": "#000"}, {"offset": 0.8625, "color": "#0000"}, {"offset": 0.87, "color": "#0000"}, {"offset": 0.8725, "color": "#000"}, {"offset": 0.875, "color": "#0000"}, {"offset": 0.8825, "color": "#0000"}, {"offset": 0.885, "color": "#000"}, {"offset": 0.8875, "color": "#0000"}, {"offset": 0.895, "color": "#0000"}, {"offset": 0.8975, "color": "#000"}, {"offset": 0.9, "color": "#0000"},
            {"offset": 0.9075, "color": "#0000"}, {"offset": 0.91, "color": "#000"}, {"offset": 0.9125, "color": "#0000"}, {"offset": 0.92, "color": "#0000"}, {"offset": 0.9225, "color": "#000"}, {"offset": 0.925, "color": "#0000"}, {"offset": 0.9325, "color": "#0000"}, {"offset": 0.935, "color": "#000"}, {"offset": 0.9375, "color": "#0000"}, {"offset": 0.945, "color": "#0000"}, {"offset": 0.9475, "color": "#000"}, {"offset": 0.95, "color": "#0000"}, {"offset": 0.9575, "color": "#0000"}, {"offset": 0.96, "color": "#000"}, {"offset": 0.9625, "color": "#0000"}, {"offset": 0.97, "color": "#0000"}, {"offset": 0.9725, "color": "#000"}, {"offset": 0.975, "color": "#0000"}, {"offset": 0.9825, "color": "#0000"}, {"offset": 0.985, "color": "#000"}, {"offset": 0.9875, "color": "#0000"}, {"offset": 0.995, "color": "#0000"}, {"offset": 0.9975, "color": "#000"}, {"offset": 1, "color": "#0000"}
          ]}},
          "encoding": {
            "x": {"field": "m", "type": "nominal", "sort": null,
              "axis": {"orient": "bottom", "bandPosition": 1, "tickOffset": 16.6, "tickSize": 4, "labels": false, "domain": false, "title": null}},
            "xOffset": {"field": "Ng", "type": "nominal"},
            "y": {"datum": 1, "type": "quantitative", "axis": {"orient": "left", "values": [0.1, 0.3, 0.5, 0.7, 0.9], "tickSize": 4, "labels": false, "domain": false, "title": null}},
            "y2": {"datum": 0}
          }
        },
        {
          "transform": [{"filter": {"field": "Ng", "oneOf": ["Ng=3", "Ng=4"]}}],
          "mark": {"type": "bar", "strokeWidth": 0, "fillOpacity": 0.8, "fill": {"gradient": "linear", "x1": 0, "y1": 0, "x2": 0.0452, "y2": 1.0414, "stops": [
            {"offset": 0.0075, "color": "#0000"}, {"offset": 0.01, "color": "#000"}, {"offset": 0.0125, "color": "#0000"}, {"offset": 0.02, "color": "#0000"}, {"offset": 0.0225, "color": "#000"}, {"offset": 0.025, "color": "#0000"}, {"offset": 0.0325, "color": "#0000"}, {"offset": 0.035, "color": "#000"}, {"offset": 0.0375, "color": "#0000"}, {"offset": 0.045, "color": "#0000"}, {"offset": 0.0475, "color": "#000"}, {"offset": 0.05, "color": "#0000"}, {"offset": 0.0575, "color": "#0000"}, {"offset": 0.06, "color": "#000"}, {"offset": 0.0625, "color": "#0000"}, {"offset": 0.07, "color": "#0000"}, {"offset": 0.0725, "color": "#000"}, {"offset": 0.075, "color": "#0000"}, {"offset": 0.0825, "color": "#0000"}, {"offset": 0.085, "color": "#000"}, {"offset": 0.0875, "color": "#0000"}, {"offset": 0.095, "color": "#0000"}, {"offset": 0.0975, "color": "#000"}, {"offset": 0.1, "color": "#0000"},
            {"offset": 0.1075, "color": "#0000"}, {"offset": 0.11, "color": "#000"}, {"offset": 0.1125, "color": "#0000"}, {"offset": 0.12, "color": "#0000"}, {"offset": 0.1225, "color": "#000"}, {"offset": 0.125, "color": "#0000"}, {"offset": 0.1325, "color": "#0000"}, {"offset": 0.135, "color": "#000"}, {"offset": 0.1375, "color": "#0000"}, {"offset": 0.145, "color": "#0000"}, {"offset": 0.1475, "color": "#000"}, {"offset": 0.15, "color": "#0000"}, {"offset": 0.1575, "color": "#0000"}, {"offset": 0.16, "color": "#000"}, {"offset": 0.1625, "color": "#0000"}, {"offset": 0.17, "color": "#0000"}, {"offset": 0.1725, "color": "#000"}, {"offset": 0.175, "color": "#0000"}, {"offset": 0.1825, "color": "#0000"}, {"offset": 0.185, "color": "#000"}, {"offset": 0.1875, "color": "#0000"}, {"offset": 0.195, "color": "#0000"}, {"offset": 0.1975, "color": "#000"}, {"offset": 0.2, "color": "#0000"},
            {"offset": 0.2075, "color": "#0000"}, {"offset": 0.21, "color": "#000"}, {"offset": 0.2125, "color": "#0000"}, {"offset": 0.22, "color": "#0000"}, {"offset": 0.2225, "color": "#000"}, {"offset": 0.225, "color": "#0000"}, {"offset": 0.2325, "color": "#0000"}, {"offset": 0.235, "color": "#000"}, {"offset": 0.2375, "color": "#0000"}, {"offset": 0.245, "color": "#0000"}, {"offset": 0.2475, "color": "#000"}, {"offset": 0.25, "color": "#0000"}, {"offset": 0.2575, "color": "#0000"}, {"offset": 0.26, "color": "#000"}, {"offset": 0.2625, "color": "#0000"}, {"offset": 0.27, "color": "#0000"}, {"offset": 0.2725, "color": "#000"}, {"offset": 0.275, "color": "#0000"}, {"offset": 0.2825, "color": "#0000"}, {"offset": 0.285, "color": "#000"}, {"offset": 0.2875, "color": "#0000"}, {"offset": 0.295, "color": "#0000"}, {"offset": 0.2975, "color": "#000"}, {"offset": 0.3, "color": "#0000"},
            {"offset": 0.3075, "color": "#0000"}, {"offset": 0.31, "color": "#000"}, {"offset": 0.3125, "color": "#0000"}, {"offset": 0.32, "color": "#0000"}, {"offset": 0.3225, "color": "#000"}, {"offset": 0.325, "color": "#0000"}, {"offset": 0.3325, "color": "#0000"}, {"offset": 0.335, "color": "#000"}, {"offset": 0.3375, "color": "#0000"}, {"offset": 0.345, "color": "#0000"}, {"offset": 0.3475, "color": "#000"}, {"offset": 0.35, "color": "#0000"}, {"offset": 0.3575, "color": "#0000"}, {"offset": 0.36, "color": "#000"}, {"offset": 0.3625, "color": "#0000"}, {"offset": 0.37, "color": "#0000"}, {"offset": 0.3725, "color": "#000"}, {"offset": 0.375, "color": "#0000"}, {"offset": 0.3825, "color": "#0000"}, {"offset": 0.385, "color": "#000"}, {"offset": 0.3875, "color": "#0000"}, {"offset": 0.395, "color": "#0000"}, {"offset": 0.3975, "color": "#000"}, {"offset": 0.4, "color": "#0000"},
            {"offset": 0.4075, "color": "#0000"}, {"offset": 0.41, "color": "#000"}, {"offset": 0.4125, "color": "#0000"}, {"offset": 0.42, "color": "#0000"}, {"offset": 0.4225, "color": "#000"}, {"offset": 0.425, "color": "#0000"}, {"offset": 0.4325, "color": "#0000"}, {"offset": 0.435, "color": "#000"}, {"offset": 0.4375, "color": "#0000"}, {"offset": 0.445, "color": "#0000"}, {"offset": 0.4475, "color": "#000"}, {"offset": 0.45, "color": "#0000"}, {"offset": 0.4575, "color": "#0000"}, {"offset": 0.46, "color": "#000"}, {"offset": 0.4625, "color": "#0000"}, {"offset": 0.47, "color": "#0000"}, {"offset": 0.4725, "color": "#000"}, {"offset": 0.475, "color": "#0000"}, {"offset": 0.4825, "color": "#0000"}, {"offset": 0.485, "color": "#000"}, {"offset": 0.4875, "color": "#0000"}, {"offset": 0.495, "color": "#0000"}, {"offset": 0.4975, "color": "#000"}, {"offset": 0.5, "color": "#0000"},
            {"offset": 0.5075, "color": "#0000"}, {"offset": 0.51, "color": "#000"}, {"offset": 0.5125, "color": "#0000"}, {"offset": 0.52, "color": "#0000"}, {"offset": 0.5225, "color": "#000"}, {"offset": 0.525, "color": "#0000"}, {"offset": 0.5325, "color": "#0000"}, {"offset": 0.535, "color": "#000"}, {"offset": 0.5375, "color": "#0000"}, {"offset": 0.545, "color": "#0000"}, {"offset": 0.5475, "color": "#000"}, {"offset": 0.55, "color": "#0000"}, {"offset": 0.5575, "color": "#0000"}, {"offset": 0.56, "color": "#000"}, {"offset": 0.5625, "color": "#0000"}, {"offset": 0.57, "color": "#0000"}, {"offset": 0.5725, "color": "#000"}, {"offset": 0.575, "color": "#0000"}, {"offset": 0.5825, "color": "#0000"}, {"offset": 0.585, "color": "#000"}, {"offset": 0.5875, "color": "#0000"}, {"offset": 0.595, "color": "#0000"}, {"offset": 0.5975, "color": "#000"}, {"offset": 0.6, "color": "#0000"},
            {"offset": 0.6075, "color": "#0000"}, {"offset": 0.61, "color": "#000"}, {"offset": 0.6125, "color": "#0000"}, {"offset": 0.62, "color": "#0000"}, {"offset": 0.6225, "color": "#000"}, {"offset": 0.625, "color": "#0000"}, {"offset": 0.6325, "color": "#0000"}, {"offset": 0.635, "color": "#000"}, {"offset": 0.6375, "color": "#0000"}, {"offset": 0.645, "color": "#0000"}, {"offset": 0.6475, "color": "#000"}, {"offset": 0.65, "color": "#0000"}, {"offset": 0.6575, "color": "#0000"}, {"offset": 0.66, "color": "#000"}, {"offset": 0.6625, "color": "#0000"}, {"offset": 0.67, "color": "#0000"}, {"offset": 0.6725, "color": "#000"}, {"offset": 0.675, "color": "#0000"}, {"offset": 0.6825, "color": "#0000"}, {"offset": 0.685, "color": "#000"}, {"offset": 0.6875, "color": "#0000"}, {"offset": 0.695, "color": "#0000"}, {"offset": 0.6975, "color": "#000"}, {"offset": 0.7, "color": "#0000"},
            {"offset": 0.7075, "color": "#0000"}, {"offset": 0.71, "color": "#000"}, {"offset": 0.7125, "color": "#0000"}, {"offset": 0.72, "color": "#0000"}, {"offset": 0.7225, "color": "#000"}, {"offset": 0.725, "color": "#0000"}, {"offset": 0.7325, "color": "#0000"}, {"offset": 0.735, "color": "#000"}, {"offset": 0.7375, "color": "#0000"}, {"offset": 0.745, "color": "#0000"}, {"offset": 0.7475, "color": "#000"}, {"offset": 0.75, "color": "#0000"}, {"offset": 0.7575, "color": "#0000"}, {"offset": 0.76, "color": "#000"}, {"offset": 0.7625, "color": "#0000"}, {"offset": 0.77, "color": "#0000"}, {"offset": 0.7725, "color": "#000"}, {"offset": 0.775, "color": "#0000"}, {"offset": 0.7825, "color": "#0000"}, {"offset": 0.785, "color": "#000"}, {"offset": 0.7875, "color": "#0000"}, {"offset": 0.795, "color": "#0000"}, {"offset": 0.7975, "color": "#000"}, {"offset": 0.8, "color": "#0000"},
            {"offset": 0.8075, "color": "#0000"}, {"offset": 0.81, "color": "#000"}, {"offset": 0.8125, "color": "#0000"}, {"offset": 0.82, "color": "#0000"}, {"offset": 0.8225, "color": "#000"}, {"offset": 0.825, "color": "#0000"}, {"offset": 0.8325, "color": "#0000"}, {"offset": 0.835, "color": "#000"}, {"offset": 0.8375, "color": "#0000"}, {"offset": 0.845, "color": "#0000"}, {"offset": 0.8475, "color": "#000"}, {"offset": 0.85, "color": "#0000"}, {"offset": 0.8575, "color": "#0000"}, {"offset": 0.86, "color": "#000"}, {"offset": 0.8625, "color": "#0000"}, {"offset": 0.87, "color": "#0000"}, {"offset": 0.8725, "color": "#000"}, {"offset": 0.875, "color": "#0000"}, {"offset": 0.8825, "color": "#0000"}, {"offset": 0.885, "color": "#000"}, {"offset": 0.8875, "color": "#0000"}, {"offset": 0.895, "color": "#0000"}, {"offset": 0.8975, "color": "#000"}, {"offset": 0.9, "color": "#0000"},
            {"offset": 0.9075, "color": "#0000"}, {"offset": 0.91, "color": "#000"}, {"offset": 0.9125, "color": "#0000"}, {"offset": 0.92, "color": "#0000"}, {"offset": 0.9225, "color": "#000"}, {"offset": 0.925, "color": "#0000"}, {"offset": 0.9325, "color": "#0000"}, {"offset": 0.935, "color": "#000"}, {"offset": 0.9375, "color": "#0000"}, {"offset": 0.945, "color": "#0000"}, {"offset": 0.9475, "color": "#000"}, {"offset": 0.95, "color": "#0000"}, {"offset": 0.9575, "color": "#0000"}, {"offset": 0.96, "color": "#000"}, {"offset": 0.9625, "color": "#0000"}, {"offset": 0.97, "color": "#0000"}, {"offset": 0.9725, "color": "#000"}, {"offset": 0.975, "color": "#0000"}, {"offset": 0.9825, "color": "#0000"}, {"offset": 0.985, "color": "#000"}, {"offset": 0.9875, "color": "#0000"}, {"offset": 0.995, "color": "#0000"}, {"offset": 0.9975, "color": "#000"}, {"offset": 1, "color": "#0000"}
          ]}},
          "encoding": {
            "x": {"field": "m", "type": "nominal", "sort": null,
              "axis": {"orient": "top", "ticks": false, "labels": false, "title": null}},
            "xOffset": {"field": "Ng", "type": "nominal"},
            "y": {"datum": 1, "type": "quantitative", "axis": {"orient": "right", "values": [0, 0.2, 0.4, 0.6, 0.8, 1.0], "format": ".1f", "tickSize": 7, "labelPadding": 6, "title": "Minimum energetic efficiency (ηIₘᵢₙ)", "titleAngle": 270, "titleBaseline": "top", "titlePadding": 7}},
            "y2": {"datum": 0}
          }
        },
        {
          "mark": {"type": "bar", "fill": "#fff", "stroke": "#fff", "strokeWidth": 1.5},
          "encoding": {
            "x": {"field": "m", "type": "nominal", "sort": null,
              "axis": {"orient": "top", "offset": -6, "tickSize": 6, "labels": false, "domain": false, "title": null}},
            "xOffset": {"field": "Ng", "type": "nominal"},
            "y": {"field": "v", "type": "quantitative", "axis": {"orient": "right", "values": [0.1, 0.3, 0.5, 0.7, 0.9], "tickSize": 4, "labels": false, "domain": false, "title": null}},
            "y2": {"datum": 1}
          }
        },
        {
          "mark": {"type": "bar", "fill": "transparent", "stroke": "#222", "strokeWidth": 1},
          "encoding": {
            "x": {"field": "m", "type": "nominal", "sort": null,
              "axis": {"orient": "top", "offset": -3.5, "tickSize": 3.5, "bandPosition": 1, "tickOffset": 16.6, "labels": false, "domain": false, "title": null}},
            "xOffset": {"field": "Ng", "type": "nominal"},
            "y": {"field": "v", "type": "quantitative", "axis": null},
            "y2": {"datum": 0}
          }
        },
        {
          "mark": {"type": "point", "filled": true, "fill": "#000", "size": 50, "opacity": 1},
          "encoding": {
            "x": {"field": "m", "type": "nominal", "sort": null, "axis": null},
            "xOffset": {"field": "Ng", "type": "nominal"},
            "y": {"field": "v", "type": "quantitative", "axis": null},
            "shape": {"field": "Ng", "type": "nominal", "scale": {"range": ["circle", "square", "diamond", "circle"]}, "legend": null}
          }
        }
      ]
    }
  ],
  "config": {
    "view": {"stroke": null},
    "font": "Liberation Serif",
    "axis": {"zindex": 1, "grid": false, "domainColor": "#000", "domainWidth": 1.2, "tickColor": "#000", "tickWidth": 1.2, "labelFont": "Liberation Sans", "labelFontSize": 15, "labelColor": "#000", "titleFont": "Liberation Serif", "titleFontSize": 20, "titleFontWeight": "normal", "titleColor": "#000"}
  }
}
